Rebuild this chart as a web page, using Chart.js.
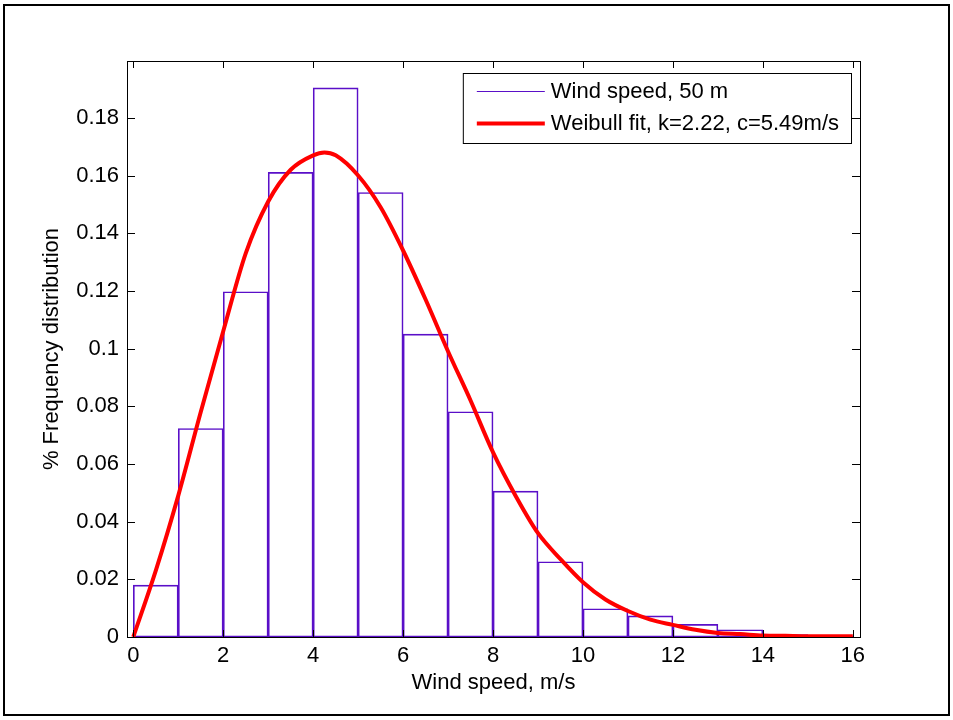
<!DOCTYPE html>
<html>
<head>
<meta charset="utf-8">
<script src="https://cdn.jsdelivr.net/npm/chart.js@4/dist/chart.umd.min.js"></script>
<style>
body { margin: 0; background: #fff; }
#wrap { position: relative; width: 953px; height: 720px; }
#graph { position: absolute; left: 0; top: 0; }
#frame { position: absolute; left: 3px; top: 4px; width: 943px; height: 708px; border: 2px solid #000; pointer-events: none; }
</style>
</head>
<body>
<div id="wrap">
  <canvas id="graph" width="953" height="720"></canvas>
  <div id="frame"></div>
</div>
<script>
// histogram bins (1 m/s wide), centres and relative frequency
const binCenters = [0.5, 1.5, 2.5, 3.5, 4.5, 5.5, 6.5, 7.5, 8.5, 9.5, 10.5, 11.5, 12.5, 13.5, 14.5, 15.5]
const binFreq = [0.018, 0.0723, 0.1197, 0.1611, 0.1904, 0.1541, 0.105, 0.0781, 0.0506, 0.0261, 0.0098, 0.0073, 0.0044, 0.0025, 0.0008, 0.0003]

// weibull fit curve
const fitSpeed = [0, 0.5, 1, 1.5, 2, 2.5, 3, 3.5, 4, 4.25, 4.5, 5, 5.5, 6, 6.5, 7, 7.5, 8, 8.5, 9, 9.5, 10, 10.5, 11, 11.5, 12, 12.5, 13, 13.5, 14, 14.5, 15, 15.5, 16]
const fitFreq = [0, 0.023, 0.049, 0.078, 0.106, 0.133, 0.151, 0.162, 0.167, 0.168, 0.167, 0.160, 0.149, 0.134, 0.117, 0.099, 0.082, 0.064, 0.049, 0.036, 0.027, 0.019, 0.013, 0.009, 0.006, 0.0042, 0.0025, 0.0014, 0.001, 0.0005, 0.0004, 0.0003, 0.0003, 0.0003]

const histLabel = 'Wind speed, 50 m'
const fitLabel = 'Weibull fit, k=2.22, c=5.49m/s'
const xTitle = 'Wind speed, m/s'
const yTitle = '% Frequency distribution'

const purple = '#5a0fc8'
const red = '#ff0000'
const font = { family: "'Liberation Sans', Arial, sans-serif", size: 22 }

// matlab style box, inner ticks and legend
const matlabAxes = {
    id: 'matlabAxes',
    afterDatasetsDraw(chart) {
        const { ctx, chartArea: a, scales: { x, y } } = chart
        ctx.save()
        ctx.strokeStyle = '#000'
        ctx.lineWidth = 1
        ctx.beginPath()
        x.ticks.forEach(t => {
            const px = Math.round(x.getPixelForValue(t.value)) + 0.5
            ctx.moveTo(px, a.bottom); ctx.lineTo(px, a.bottom - 7)
            ctx.moveTo(px, a.top); ctx.lineTo(px, a.top + 7)
        })
        y.ticks.forEach(t => {
            const py = Math.round(y.getPixelForValue(t.value)) + 0.5
            ctx.moveTo(a.left, py); ctx.lineTo(a.left + 8, py)
            ctx.moveTo(a.right, py); ctx.lineTo(a.right - 8, py)
        })
        ctx.stroke()
        ctx.strokeRect(Math.round(a.left) + 0.5, Math.round(a.top) + 0.5, Math.round(a.right - a.left), Math.round(a.bottom - a.top))

        // legend
        ctx.font = font.size + 'px ' + font.family
        const tw = Math.max(ctx.measureText(histLabel).width, ctx.measureText(fitLabel).width)
        const right = Math.round(a.right) - 9
        const left = right - (88 + tw + 12)
        const top = Math.round(a.top) + 12
        ctx.fillStyle = '#fff'
        ctx.fillRect(left, top, right - left, 70)
        ctx.strokeRect(left + 0.5, top + 0.5, right - left, 70)
        const rows = [[histLabel, purple, 1], [fitLabel, red, 4]]
        rows.forEach((r, i) => {
            const cy = top + 18 + i * 32
            ctx.strokeStyle = r[1]
            ctx.lineWidth = r[2]
            ctx.beginPath()
            ctx.moveTo(left + 14, cy + 0.5); ctx.lineTo(left + 82, cy + 0.5)
            ctx.stroke()
            ctx.fillStyle = '#000'
            ctx.textBaseline = 'middle'
            ctx.textAlign = 'left'
            ctx.fillText(r[0], left + 88, cy + 1)
        })
        ctx.restore()
    }
}

const data = {
    datasets: [
        {
            type: 'line',
            label: fitLabel,
            data: fitSpeed.map((v, i) => ({ x: v, y: fitFreq[i] })),
            borderColor: red,
            borderWidth: 4,
            pointRadius: 0,
            cubicInterpolationMode: 'monotone',
            fill: false,
            order: 0
        },
        {
            type: 'bar',
            label: histLabel,
            data: binCenters.map((v, i) => ({ x: v, y: binFreq[i] })),
            backgroundColor: 'rgba(255,255,255,0)',
            borderColor: purple,
            borderWidth: 1,
            borderSkipped: false,
            barPercentage: 1,
            categoryPercentage: 1,
            order: 1
        }
    ]
}

new Chart(document.querySelector('#graph'), {
    data: data,
    options: {
        responsive: false,
        animation: false,
        devicePixelRatio: 1,
        layout: { padding: { top: 61, right: 93, left: 0, bottom: 0 } },
        plugins: { legend: { display: false }, tooltip: { enabled: false } },
        scales: {
            x: {
                type: 'linear',
                offset: false,
                min: -0.14,
                max: 16.16,
                grid: { display: false, drawTicks: false, offset: false },
                border: { display: false },
                ticks: { stepSize: 2, includeBounds: false, autoSkip: false, maxRotation: 0, padding: 6, color: '#000', font: font },
                title: { display: true, text: xTitle, color: '#000', font: font, padding: { top: 0, bottom: 24 } },
                afterFit(s) { s.height = 83 }
            },
            y: {
                type: 'linear',
                min: 0,
                max: 0.1997,
                grid: { display: false, drawTicks: false },
                border: { display: false },
                ticks: { stepSize: 0.02, includeBounds: false, padding: 8, color: '#000', font: font, callback: v => String(+v.toFixed(2)) },
                title: { display: true, text: yTitle, color: '#000', font: font, padding: { top: 39, bottom: 0 } },
                afterFit(s) { s.width = 127 }
            }
        }
    },
    plugins: [matlabAxes]
})
</script>
</body>
</html>
